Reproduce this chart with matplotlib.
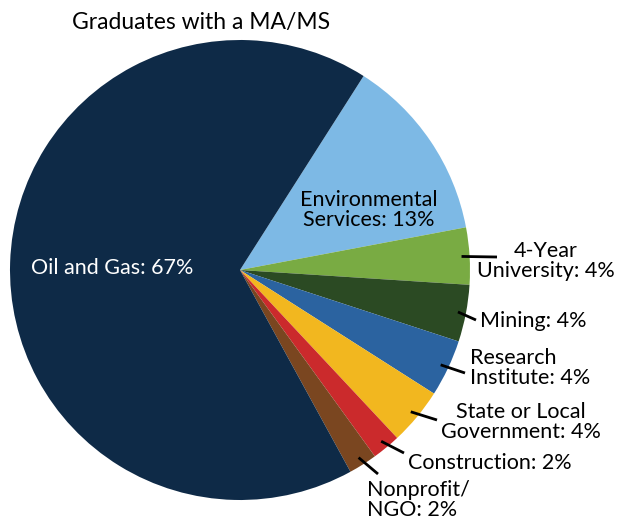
import numpy as np
import matplotlib
matplotlib.use("Agg")
import matplotlib.pyplot as plt

plt.rcParams['font.family'] = ['Lato', 'DejaVu Sans']

# data
sectors = ["Oil and Gas", "Environmental\nServices", "4-Year\nUniversity", "Mining",
           "Research\nInstitute", "State or Local\nGovernment", "Construction", "Nonprofit/\nNGO"]
percents = [67, 13, 4, 4, 4, 4, 2, 2]
colors = ["#0e2a47", "#7db9e5", "#79ab43", "#2b4a23", "#2b63a0", "#f2b71f", "#cb2a2c", "#7a4620"]

W, H = 620, 521
fig = plt.figure(figsize=(W / 100, H / 100), dpi=100)
ax = fig.add_axes([0, 0, 1, 1])

cx, cy, R = 240, H - 270, 230
# order clockwise starting at Environmental Services
order = [1, 2, 3, 4, 5, 6, 7, 0]
vals = [percents[i] for i in order]
cols = [colors[i] for i in order]
wedges, _ = ax.pie(vals, colors=cols, center=(cx, cy), radius=R, startangle=57.5,
                   counterclock=False, wedgeprops=dict(linewidth=0))
ax.set_xlim(0, W)
ax.set_ylim(0, H)
ax.set_aspect('equal')
ax.axis('off')

fs = 15.5

def lab(i):
    return f"{sectors[i]}: {percents[i]}%"

# label positions in pixels (x, y from top), alignment, leader line end
layout = {
    0: (112, 268, 'center', None),
    1: (369, 210, 'center', None),
    2: (546, 261, 'center', (497, 257)),
    3: (480, 321, 'left', (476, 320)),
    4: (470, 368, 'left', (465, 373)),
    5: (521, 422, 'center', (437, 420)),
    6: (408, 463, 'left', (404, 453)),
    7: (367, 500, 'left', (378, 474)),
}

for k, w in enumerate(wedges):
    i = order[k]
    x, y, ha, end = layout[i]
    color = 'white' if i == 0 else 'black'
    ax.text(x, H - y, lab(i), ha=ha, va='center', fontsize=fs, color=color,
            linespacing=1.05)
    if end is not None:
        mid = np.deg2rad((w.theta1 + w.theta2) / 2)
        r0 = R * 0.965
        x0, y0 = cx + r0 * np.cos(mid), cy + r0 * np.sin(mid)
        ax.plot([x0, end[0]], [y0, H - end[1]], color='black', lw=2,
                solid_capstyle='butt')

ax.text(201, H - 22, "Graduates with a MA/MS", ha='center', va='center', fontsize=16.5)

fig.savefig("out.png", dpi=100)
